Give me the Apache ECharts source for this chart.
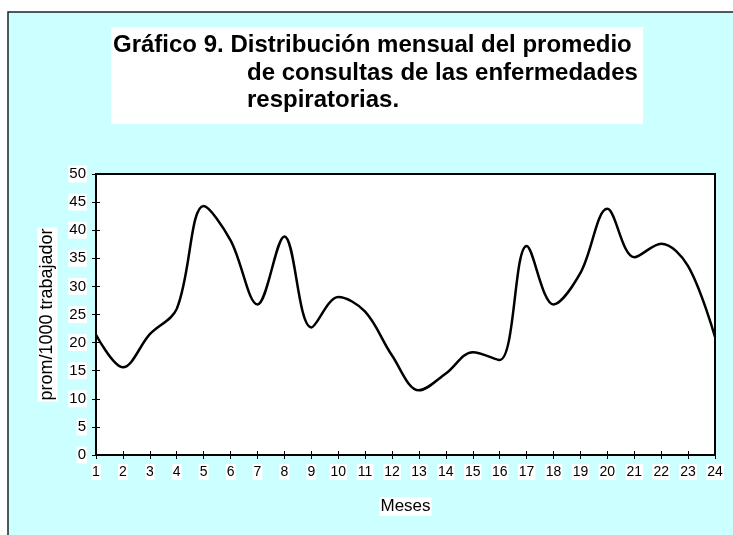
<!DOCTYPE html>
<html>
<head>
<meta charset="utf-8">
<script src="https://cdn.jsdelivr.net/npm/echarts@6/dist/echarts.min.js"></script>
<style>
  html, body { margin: 0; padding: 0; background: #fff; }
  #chart { width: 733px; height: 535px; }
</style>
</head>
<body>
<div id="chart"></div>
<script>
// months on the x axis
const meses = ["1","2","3","4","5","6","7","8","9","10","11","12",
  "13","14","15","16","17","18","19","20","21","22","23","24"];

// promedio de consultas por 1000 trabajadores
const promedio = [21.4, 15.6, 21.5, 26.0, 44.3, 38.2, 26.8, 38.9, 22.7, 28.1, 25.5, 17.7,
  11.5, 14.5, 18.3, 16.9, 37.2, 26.8, 32.4, 43.8, 35.2, 37.6, 33.6, 21.0];

const titleLines = [
  "Gráfico 9. Distribución mensual del promedio",
  "de consultas de las enfermedades",
  "respiratorias."
];

const chart = echarts.init(document.getElementById("chart"), null, { renderer: "canvas" });

const labelFont = { fontFamily: "Liberation Sans, Arial, sans-serif", color: "#000" };

const option = {
  backgroundColor: "#fff",
  animation: false,
  graphic: [
    {
      type: "rect", z: -10, silent: true,
      shape: { x: 8, y: 12, width: 740, height: 540 },
      style: { fill: "#CCFFFF", stroke: "#222", lineWidth: 1.5 }
    },
    {
      type: "rect", z: -5, silent: true,
      shape: { x: 111, y: 27, width: 532, height: 97 },
      style: { fill: "#fff" }
    }
  ],
  title: [
    { text: titleLines[0], left: 113, top: 33, padding: 0 },
    { text: titleLines[1], left: 247, top: 61, padding: 0 },
    { text: titleLines[2], left: 247, top: 88, padding: 0 }
  ].map(t => Object.assign(t, {
    textStyle: { fontFamily: "Liberation Sans, Arial, sans-serif", fontSize: 24, fontWeight: "bold", color: "#000" }
  })),
  grid: {
    left: 96, right: 18, top: 174, bottom: 80,
    show: true, backgroundColor: "#fff", borderColor: "#000", borderWidth: 2
  },
  xAxis: [
    {
      type: "category",
      data: meses,
      boundaryGap: false,
      name: "Meses",
      nameLocation: "middle",
      nameGap: 42,
      nameTextStyle: Object.assign({ fontSize: 17, backgroundColor: "#fff", padding: [1, 1] }, labelFont),
      axisLine: { lineStyle: { color: "#000", width: 2 } },
      axisTick: { show: true, length: 4, alignWithLabel: true, lineStyle: { color: "#000" } },
      axisLabel: Object.assign({ fontSize: 14, margin: 9, interval: 0, backgroundColor: "#fff", padding: [1, 1] }, labelFont),
      splitLine: { show: false }
    },
    {
      type: "category",
      data: meses,
      boundaryGap: false,
      position: "bottom",
      axisLine: { show: false },
      axisTick: { show: true, inside: true, length: 4, lineStyle: { color: "#000" } },
      axisLabel: { show: false },
      splitLine: { show: false }
    }
  ],
  yAxis: [
    {
      type: "value",
      min: 0, max: 50, interval: 5,
      name: "prom/1000 trabajador",
      nameLocation: "middle",
      nameRotate: 90,
      nameGap: 38,
      nameTextStyle: Object.assign({ fontSize: 18, backgroundColor: "#fff", padding: [1, 1] }, labelFont),
      axisLine: { show: true, lineStyle: { color: "#000", width: 2 } },
      axisTick: { show: true, length: 4, lineStyle: { color: "#000" } },
      axisLabel: Object.assign({ fontSize: 15, margin: 9, backgroundColor: "#fff", padding: [1, 1] }, labelFont),
      splitLine: { show: false }
    },
    {
      type: "value",
      min: 0, max: 50, interval: 5,
      position: "left",
      axisLine: { show: false },
      axisTick: { show: true, inside: true, length: 4, lineStyle: { color: "#000" } },
      axisLabel: { show: false },
      splitLine: { show: false }
    }
  ],
  series: [
    {
      type: "line",
      data: promedio,
      smooth: 0.35,
      showSymbol: false,
      lineStyle: { color: "#000", width: 2.5 },
      z: 3
    }
  ]
};

chart.setOption(option);
</script>
</body>
</html>
